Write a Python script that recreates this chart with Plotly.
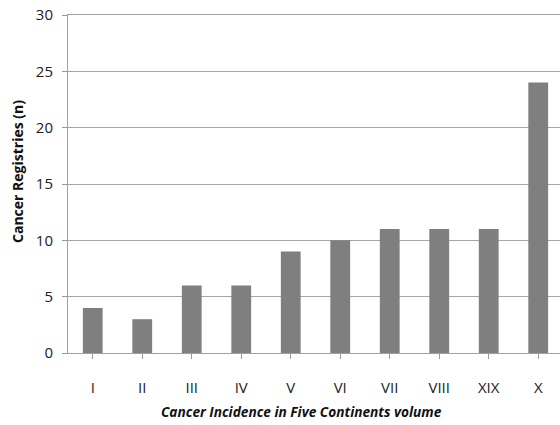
import plotly.graph_objects as go

categories = ["I", "II", "III", "IV", "V", "VI", "VII", "VIII", "XIX", "X"]
registries = [4, 3, 6, 6, 9, 10, 11, 11, 11, 24]
y_ticks = [0, 5, 10, 15, 20, 25, 30]

fig = go.Figure()
fig.add_trace(go.Bar(
    x=list(range(len(categories))), y=registries,
    marker=dict(color="#7f7f7f", line=dict(width=0)),
    width=0.4,
))

font = "Open Sans, DejaVu Sans, sans-serif"
fig.update_layout(
    width=560, height=425,
    margin=dict(l=68, r=0, t=15, b=72),
    plot_bgcolor="white", paper_bgcolor="white",
    showlegend=False,
    font=dict(family=font, size=15, color="#222222"),
    xaxis=dict(
        range=[-0.5, 9.44], automargin=False,
        tickmode="array", tickvals=list(range(len(categories))), ticktext=categories,
        ticks="outside", ticklen=5, tickcolor="#999999", tickson="boundaries",
        showline=True, linecolor="#a0a0a0", linewidth=1, mirror=True,
        showgrid=False, zeroline=False,
        ticklabelstandoff=16,
    ),
    yaxis=dict(
        range=[0, 30], tickvals=y_ticks, automargin=False,
        ticks="outside", ticklen=5, tickcolor="#999999",
        showline=True, linecolor="#a0a0a0", linewidth=1,
        showgrid=True, gridcolor="#a6a6a6", gridwidth=1,
        zeroline=False,
        ticklabelstandoff=6,
    ),
    annotations=[
        dict(text="<b><i>Cancer Incidence in Five Continents volume</i></b>",
             xref="paper", yref="paper", x=(301 - 68) / 492, y=-(412 - 353) / 338,
             xanchor="center", yanchor="middle", showarrow=False,
             font=dict(size=13.7, family=font, color="#111111")),
        dict(text="<b>Cancer Registries (n)</b>",
             xref="paper", yref="paper", x=-(68 - 17) / 492, y=(353 - 172) / 338,
             xanchor="center", yanchor="middle", textangle=-90, showarrow=False,
             font=dict(size=14, family=font, color="#111111")),
    ],
)
fig.write_html("out.html",
               config={"displayModeBar": False},
               post_script="document.body.style.margin='0';document.body.style.overflow='hidden';")
